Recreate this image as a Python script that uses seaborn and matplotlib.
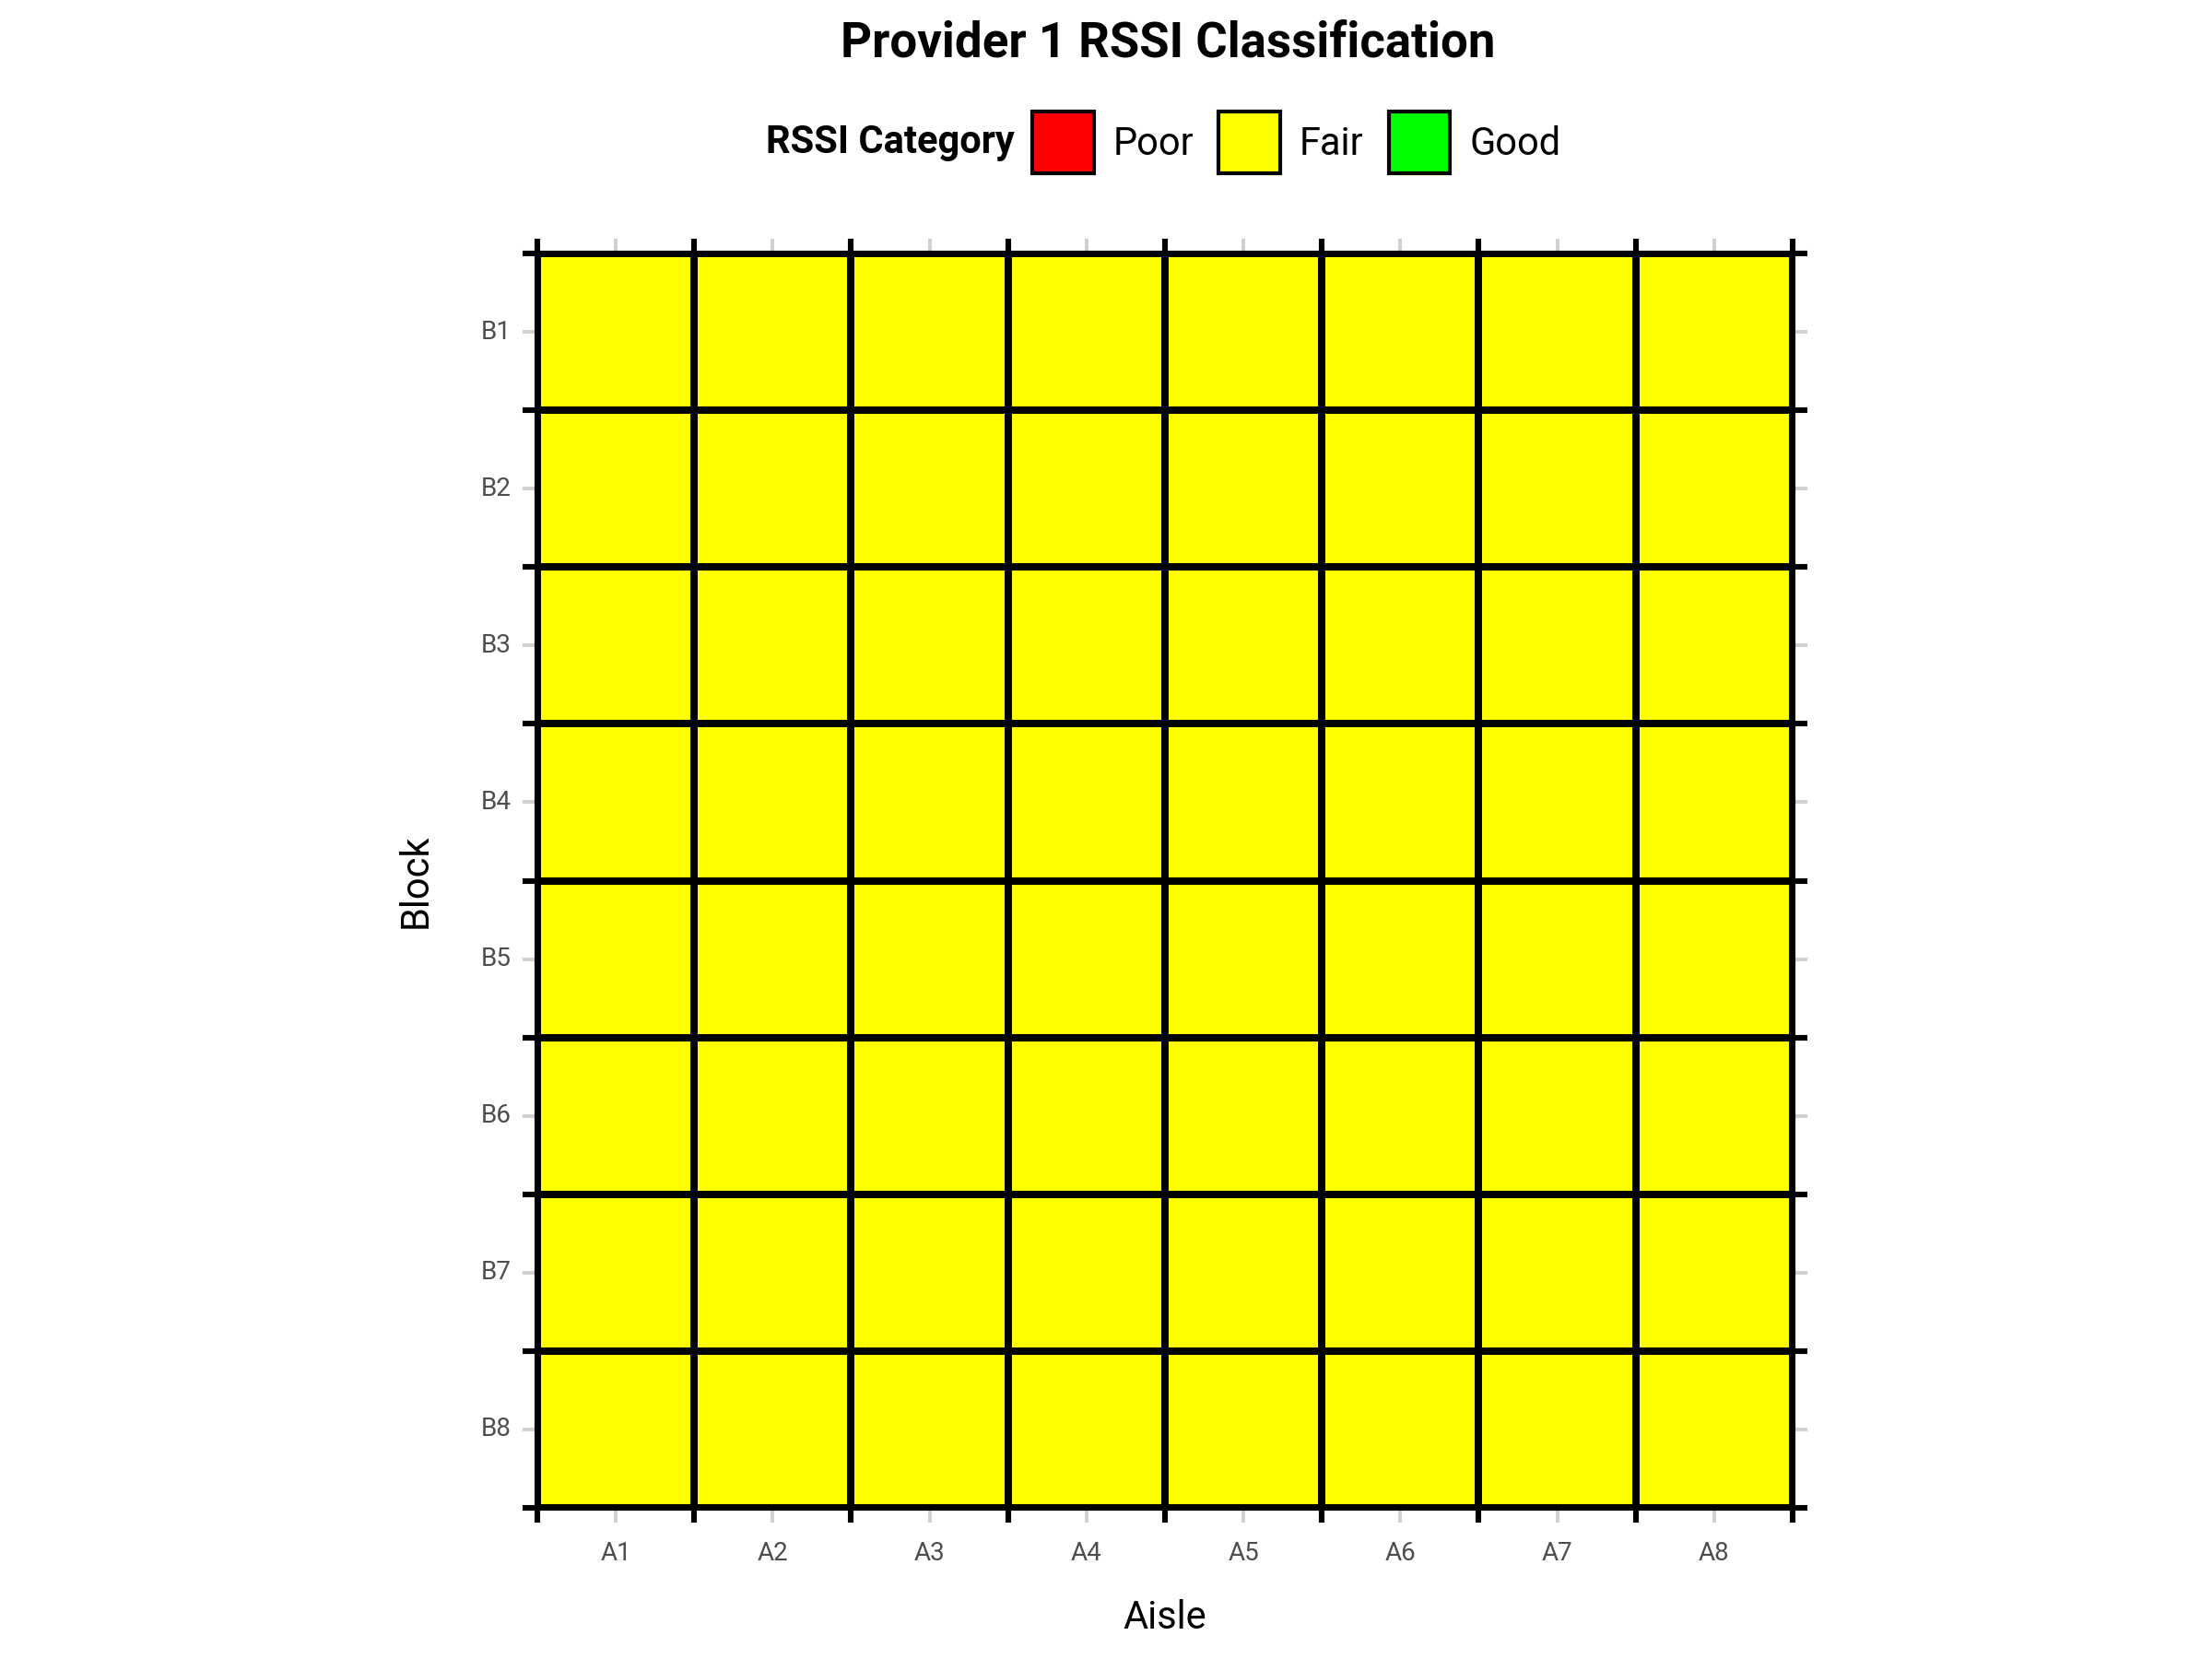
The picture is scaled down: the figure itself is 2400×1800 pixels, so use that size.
import numpy as np
import pandas as pd
import matplotlib
matplotlib.use("Agg")
import matplotlib.pyplot as plt
import seaborn as sns
from matplotlib.colors import ListedColormap
from matplotlib.patches import Patch

# data
aisles = ["A1", "A2", "A3", "A4", "A5", "A6", "A7", "A8"]
blocks = ["B1", "B2", "B3", "B4", "B5", "B6", "B7", "B8"]
categories = ["Poor", "Fair", "Good"]
category_colors = ["#FF0000", "#FFFF00", "#00FF00"]

# every cell is Fair for provider 1
rssi_grid = [
    ["Fair", "Fair", "Fair", "Fair", "Fair", "Fair", "Fair", "Fair"],
    ["Fair", "Fair", "Fair", "Fair", "Fair", "Fair", "Fair", "Fair"],
    ["Fair", "Fair", "Fair", "Fair", "Fair", "Fair", "Fair", "Fair"],
    ["Fair", "Fair", "Fair", "Fair", "Fair", "Fair", "Fair", "Fair"],
    ["Fair", "Fair", "Fair", "Fair", "Fair", "Fair", "Fair", "Fair"],
    ["Fair", "Fair", "Fair", "Fair", "Fair", "Fair", "Fair", "Fair"],
    ["Fair", "Fair", "Fair", "Fair", "Fair", "Fair", "Fair", "Fair"],
    ["Fair", "Fair", "Fair", "Fair", "Fair", "Fair", "Fair", "Fair"],
]

df = pd.DataFrame(rssi_grid, index=blocks, columns=aisles)
codes = df.apply(lambda col: col.map({c: i for i, c in enumerate(categories)}))

sns.set_theme(style="white")
plt.rcParams['font.family'] = ['Roboto', 'DejaVu Sans']
plt.rcParams['text.color'] = 'black'

fig = plt.figure(figsize=(12, 9), dpi=200)
ax = fig.add_axes([0.2429, 0.0911, 0.5675, 0.7561])

sns.heatmap(codes, ax=ax, cmap=ListedColormap(category_colors), vmin=-0.5, vmax=2.5,
            cbar=False, linewidths=2.2, linecolor="black", square=False)

for s in ax.spines.values():
    s.set_visible(True)
    s.set_color("black")
    s.set_linewidth(2.2)

# ticks: grey at cell centres, black at cell boundaries
ax.set_xticks(np.arange(len(aisles) + 1), minor=True)
ax.set_yticks(np.arange(len(blocks) + 1), minor=True)
ax.tick_params(which="both", direction="out", top=True, right=True, bottom=True, left=True,
               labeltop=False, labelright=False, labelbottom=True, labelleft=True, length=5.8)
ax.tick_params(which="major", color="#d0d0d0", width=1.4, labelsize=10,
               labelcolor="#4d4d4d")
ax.tick_params(axis="x", which="major", pad=7)
ax.tick_params(axis="y", which="major", pad=4.5)
ax.tick_params(which="minor", color="black", width=2.2)
ax.set_xticklabels(aisles, rotation=0)
ax.set_yticklabels(blocks, rotation=0)

ax.set_xlabel("Aisle", fontsize=15, color="black", labelpad=13)
ax.set_ylabel("Block", fontsize=15, color="black", labelpad=18)

fig.text(0.528, 0.974, "Provider 1 RSSI Classification", ha="center", va="center",
         fontsize=19, fontweight="bold", color="black")

# legend
fig.text(0.4585, 0.914, "RSSI Category", ha="right", va="center",
         fontsize=15, fontweight="bold", color="black")
handles = [Patch(facecolor=c, edgecolor="black", linewidth=1.5, label=l)
           for c, l in zip(category_colors, categories)]
leg = fig.legend(handles=handles, loc="center left", bbox_to_anchor=(0.4667, 0.914),
                 ncol=3, frameon=False, fontsize=15, handlelength=1.6, handleheight=2.1,
                 handletextpad=0.5, columnspacing=0.65, borderpad=0, borderaxespad=0)
for t in leg.get_texts():
    t.set_color("black")

fig.savefig("out.png", dpi=200, facecolor="white")
